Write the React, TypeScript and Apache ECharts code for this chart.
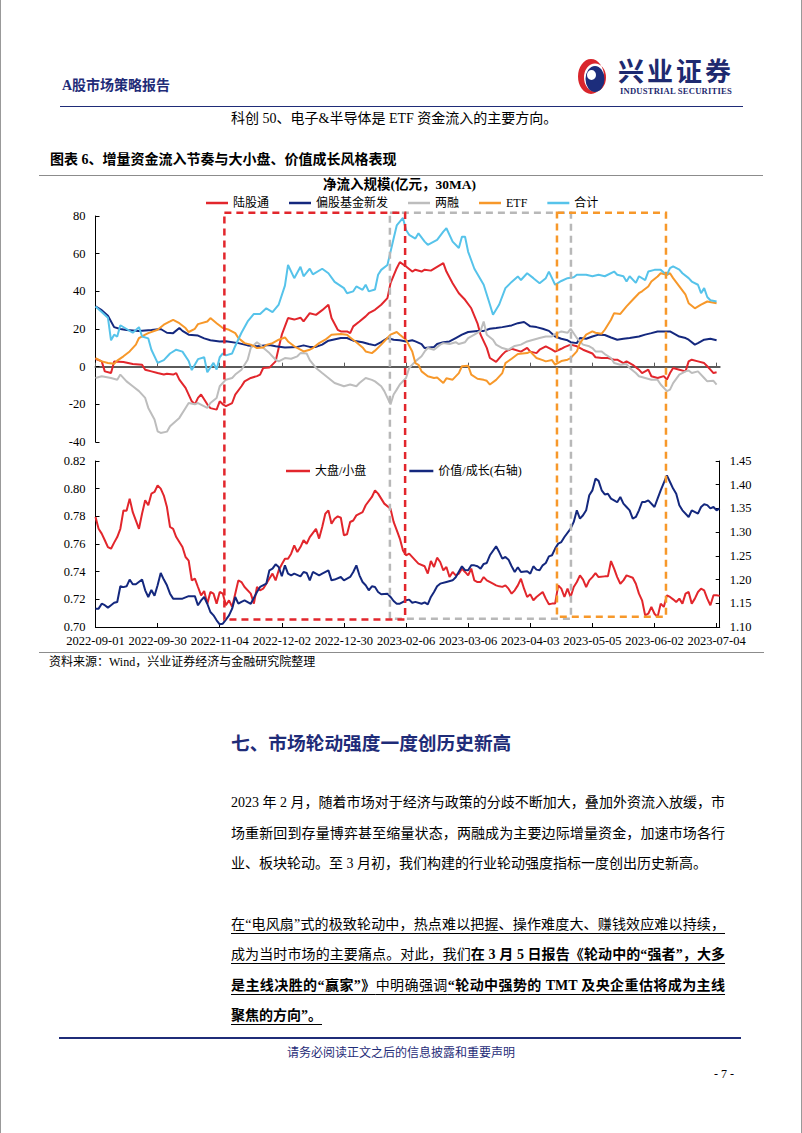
import React, { useEffect, useRef } from "react";
import * as echarts from "echarts";

const FONT = '"Liberation Serif", "Noto Sans CJK SC", serif';
const NAVY = "#1F2C78";

// Chinese A-share market holidays in the period (weekdays)
const HOLIDAYS = [
  "2022-09-12", "2022-10-03", "2022-10-04", "2022-10-05", "2022-10-06", "2022-10-07",
  "2023-01-02", "2023-01-23", "2023-01-24", "2023-01-25", "2023-01-26", "2023-01-27",
  "2023-04-05", "2023-05-01", "2023-05-02", "2023-05-03", "2023-06-22", "2023-06-23",
];

function tradingDays(start: string, count: number): string[] {
  const out: string[] = [];
  const d = new Date(start + "T00:00:00Z");
  while (out.length < count) {
    const s = d.toISOString().slice(0, 10);
    const wd = d.getUTCDay();
    if (wd !== 0 && wd !== 6 && !HOLIDAYS.includes(s)) out.push(s);
    d.setUTCDate(d.getUTCDate() + 1);
  }
  return out;
}

const dates = tradingDays("2022-09-01", 202);

// 净流入规模(亿元，30MA) — [trading-day index, value]
const northbound: [number, number][] = [
  [0,4.2],[2,2.8],[3,-2.5],[5,-3.4],[6,2.8],[9,2.5],[12,1.4],[15,1],[16,-1.6],[18,-2.5],[20,-3.4],[22,-4.2],[23,-3.8],[25,-4.2],[26,-3.4],[27,-6.9],[29,-11.3],[31,-18.4],[32,-20],[33,-16.6],[34,-14.8],[36,-20],[37,-22],[39,-22.8],[40,-18.4],[41,-20],[42,-21],[44,-19.3],[45,-14.8],[47,-10.4],[48,-7.8],[50,-6],[52,-5],[53,-4.2],[54,-0.7],[56,-0.5],[58,2.8],[59,10],[60,17],[62,25.8],[64,25],[66,26],[67,24],[69,28.4],[71,27.5],[73,30],[75,32.9],[76,25.8],[78,19.6],[79,18.7],[81,18.7],[82,17.8],[83,21.4],[85,24],[87,26.7],[88,28.4],[90,30.2],[92,32.9],[94,36.4],[95,44.3],[97,52.3],[98,55.5],[100,53.2],[102,50.5],[103,51.5],[105,50.5],[106,51.5],[108,51],[110,53],[112,55],[113,50.5],[115,44.3],[117,39],[119,35.5],[121,31],[123,23],[124,17],[126,10],[127,4.6],[129,2.5],[131,6.4],[132,8],[134,9.5],[137,8],[139,10],[140,8],[142,7.2],[143,9],[145,10.8],[147,9],[148,8],[150,9.5],[151,10.4],[153,11.7],[155,10.8],[157,9],[160,7],[161,5],[163,4.6],[165,4.6],[167,3.7],[168,3.7],[170,1.9],[171,2.8],[173,1],[175,-1.6],[176,-3.4],[178,-1.6],[179,-5.1],[181,-6],[183,-5],[184,-6.9],[185,-3.4],[186,-0.7],[188,-1.6],[190,-2.5],[191,2.8],[192,3.7],[194,2.8],[196,1.9],[197,0.2],[198,-1.6],[199,-3.4],[200,-3],
];
const newFunds: [number, number][] = [
  [0,32],[2,30],[4,27],[6,21],[8,20],[10,19.5],[14,19],[18,19.5],[21,20],[23,18],[25,17.8],[27,20.5],[28,19],[30,17],[33,16.5],[35,15],[37,14],[40,13.4],[42,13.5],[46,12.5],[49,11.3],[52,10.8],[56,11.5],[58,10.8],[61,10.2],[65,10.5],[67,11.3],[69,10.5],[71,10.5],[73,11.7],[75,13.8],[79,15.2],[81,15.2],[83,13.8],[86,13],[88,12],[90,11.3],[92,13],[94,15.2],[96,14.3],[98,14],[100,13.4],[102,14],[103,13.4],[105,12],[106,9.9],[109,10.5],[110,12],[112,13],[114,13.4],[116,15.2],[118,17],[120,18.4],[123,19],[125,19],[127,20.1],[129,20.5],[131,21],[134,21.9],[136,23.1],[138,23.7],[140,21.4],[142,21],[144,20.1],[146,19],[148,16],[150,14.8],[152,14],[153,13],[155,12.5],[156,15.2],[158,14.8],[160,16],[162,17],[164,16.8],[166,15.5],[168,14.3],[170,14.8],[172,15.2],[175,16],[177,17],[179,17.8],[181,18.7],[183,18.7],[185,18.7],[186,17.8],[188,16],[190,15.2],[191,14.3],[193,11.7],[194,12.5],[196,14.3],[198,14.8],[200,14],
];
const margin: [number, number][] = [
  [0,-6],[2,-5.1],[5,-6],[7,-6.9],[8,-4.2],[10,-7.8],[12,-10.4],[14,-13],[16,-16.6],[17,-21.9],[19,-28],[20,-34.3],[21,-35.2],[23,-34.5],[24,-31.6],[27,-27.2],[29,-21.9],[30,-19.3],[32,-20],[33,-19.3],[36,-21.9],[37,-19.3],[39,-16.6],[40,-10.4],[42,-6.9],[44,-6],[45,-4.2],[47,-1.6],[49,3.7],[50,9.9],[52,13],[53,11.7],[54,10],[56,7.2],[58,3.7],[59,2.8],[61,4.6],[63,4.2],[65,5.5],[66,7.2],[68,7],[69,3.5],[71,-0.7],[73,-3.4],[75,-6],[77,-8.7],[80,-10.4],[82,-9.5],[84,-10.4],[85,-8.7],[87,-6],[89,-7],[90,-7.8],[92,-10.4],[93,-13],[95,-20],[96,-14.8],[97,-12.2],[98,-9.5],[100,-6],[101,-0.7],[103,2.8],[105,5.5],[106,8.1],[107,9.9],[109,9],[111,11.7],[112,12.5],[114,12],[116,13],[117,12],[119,13],[120,15.2],[122,17],[124,19],[125,24],[126,17],[128,14.3],[129,11.7],[131,9.9],[133,9],[135,11],[137,11.7],[139,13.4],[141,14.3],[143,15.2],[145,16],[147,16],[148,17.3],[150,18.7],[152,18],[153,20.1],[155,15.2],[156,13.4],[157,11.7],[159,10.8],[160,9.9],[161,8.1],[163,8.1],[164,6.7],[166,4.6],[167,1.9],[169,1],[171,1.4],[172,-0.7],[174,-3.4],[175,-5.1],[177,-6],[179,-6.9],[181,-7],[182,-9.5],[184,-13],[185,-12.2],[186,-8.7],[188,-4.2],[190,-2.5],[191,-2],[192,-3.4],[194,-2.5],[196,-6],[197,-7.8],[199,-7.5],[200,-9.5],
];
const etf: [number, number][] = [
  [0,4.6],[2,2.8],[4,1.9],[6,1.5],[7,3.2],[9,5.5],[11,8.1],[13,11.7],[14,15.2],[16,17],[17,17.8],[20,19.6],[22,22.3],[24,24],[25,24.9],[27,23.1],[29,20.5],[30,18.4],[32,20.1],[33,22.6],[36,24],[37,25.8],[39,23.1],[41,20.5],[43,19.6],[45,17.8],[46,15.2],[48,12.5],[50,11.7],[52,9.9],[54,10.2],[55,11.5],[57,12.5],[59,14.3],[61,15.5],[62,13.4],[64,10.8],[66,9],[67,8.1],[69,9],[70,9.9],[72,12.5],[74,14.3],[76,17],[79,17.3],[81,17],[82,15.5],[84,13],[86,10.2],[87,8.1],[89,7.2],[90,8.5],[92,11.7],[94,15.2],[95,17],[97,18.4],[98,17],[100,14.3],[102,8.1],[103,1.9],[104,1],[105,-2.5],[107,-5.1],[109,-6],[110,-5.8],[112,-8.7],[113,-6.2],[115,-6.9],[117,-3.4],[118,0.2],[120,0.5],[121,-4.2],[123,-6.4],[125,-7],[126,-7.5],[127,-9.5],[129,-7],[131,-3.4],[132,1.9],[134,4.2],[136,6.7],[139,7.2],[140,8],[142,4.6],[144,3.5],[145,2.8],[147,3.5],[148,1.1],[150,3],[152,3.7],[153,4.5],[155,8.1],[156,12.5],[158,17],[160,18.7],[161,18],[163,17.5],[164,19.6],[166,24.9],[167,28.4],[169,28],[171,32],[173,35.5],[175,39],[176,40],[178,42.6],[179,45.2],[181,47.9],[182,49.6],[184,48.8],[185,49.6],[186,47],[188,42.6],[190,38.2],[191,33.7],[193,31],[195,32.9],[197,34.6],[200,33.7],
];
const total: [number, number][] = [
  [0,32],[2,29],[4,26],[5,14],[6,17],[7,16],[8,22],[10,20],[12,18],[14,21],[15,16],[17,15],[18,9],[20,2],[22,3.5],[24,7],[26,9],[28,8],[30,3],[31,-1.8],[33,4],[35,5],[36,-3],[38,2],[39,-1.5],[40,5],[41,7],[42,6],[44,7],[45,11],[47,18],[49,24],[51,28],[53,28],[55,31],[57,29],[59,33],[61,43],[62,54],[64,47],[66,53],[67,48],[69,52],[70,49],[73,52],[75,49.6],[77,45],[80,41.7],[81,39],[83,40],[84,42.6],[86,40.8],[87,43.5],[88,40],[90,41],[91,48.8],[92,51.4],[94,54],[96,68],[97,75],[99,79],[100,72.6],[101,70],[103,68],[104,70.8],[106,66.4],[107,64.7],[110,67.3],[112,71.7],[113,73.5],[115,66.4],[117,63],[118,69],[119,69],[120,61],[122,52],[125,43.5],[127,33],[128,27.6],[130,33],[132,41.7],[134,45],[136,47.9],[137,46],[139,49.6],[141,47],[143,44.3],[145,47],[146,50.5],[147,47],[148,43.5],[150,45.5],[152,47],[154,47.5],[155,48.8],[158,48.8],[160,48],[162,48.8],[164,48],[167,50.5],[168,48.8],[170,48],[171,45.2],[172,48],[174,44.5],[175,48],[177,46],[178,50.5],[180,51.4],[182,51.4],[183,50],[184,48.8],[185,52.3],[186,53.2],[188,51.5],[189,49.6],[191,47],[192,45.2],[194,43.5],[195,39],[196,41.7],[197,37],[198,35.3],[200,34.6],
];

// 大盘/小盘 (left axis) and 价值/成长 (right axis)
const bigSmall: [number, number][] = [
  [0,0.7795],[1,0.771],[2,0.7675],[3,0.7627],[4,0.7578],[5,0.7566],[6,0.761],[7,0.765],[8,0.771],[9,0.7843],[10,0.784],[11,0.7928],[12,0.783],[14,0.771],[15,0.782],[16,0.7916],[17,0.788],[18,0.7964],[19,0.7976],[20,0.8024],[21,0.80],[22,0.795],[23,0.7867],[24,0.7723],[25,0.771],[26,0.765],[28,0.7578],[29,0.7506],[30,0.748],[31,0.7337],[32,0.735],[33,0.7289],[34,0.7229],[35,0.726],[36,0.7169],[37,0.7253],[38,0.7241],[39,0.7169],[40,0.7253],[41,0.7241],[42,0.7157],[43,0.7193],[44,0.7145],[45,0.7241],[46,0.7337],[47,0.7325],[48,0.7289],[50,0.7241],[51,0.7169],[52,0.7289],[53,0.7265],[54,0.7277],[55,0.7313],[56,0.735],[57,0.7386],[58,0.7337],[59,0.741],[60,0.7453],[61,0.7494],[62,0.7494],[63,0.753],[64,0.759],[65,0.7542],[66,0.7578],[67,0.7627],[68,0.7602],[69,0.765],[71,0.771],[72,0.7639],[73,0.7723],[74,0.7819],[75,0.7843],[76,0.7747],[77,0.7783],[78,0.78],[79,0.779],[80,0.7663],[81,0.767],[82,0.7759],[83,0.777],[84,0.7807],[86,0.783],[87,0.788],[89,0.794],[90,0.7988],[91,0.7964],[92,0.7928],[93,0.7892],[95,0.7855],[96,0.776],[97,0.770],[98,0.7639],[99,0.7554],[100,0.7518],[101,0.753],[103,0.7482],[104,0.7458],[106,0.7439],[107,0.7386],[108,0.7477],[109,0.7434],[110,0.7501],[111,0.747],[112,0.741],[113,0.7434],[114,0.7361],[115,0.7398],[116,0.7373],[117,0.7386],[118,0.7422],[119,0.7398],[120,0.7373],[121,0.7422],[122,0.7337],[123,0.7325],[124,0.7325],[125,0.7361],[126,0.7337],[128,0.7313],[129,0.7301],[130,0.7294],[131,0.729],[132,0.7301],[133,0.7277],[134,0.7241],[135,0.7265],[136,0.7301],[137,0.7349],[138,0.7277],[139,0.7217],[140,0.7236],[141,0.7193],[142,0.7217],[144,0.7253],[145,0.7205],[146,0.7164],[147,0.7169],[148,0.7169],[149,0.7301],[150,0.7277],[151,0.7217],[152,0.7277],[153,0.7217],[154,0.7289],[155,0.7325],[156,0.7373],[157,0.7342],[158,0.7289],[159,0.7337],[160,0.7361],[161,0.739],[162,0.7361],[164,0.7366],[165,0.7366],[166,0.7477],[167,0.7422],[168,0.7361],[169,0.7313],[170,0.7337],[171,0.7373],[173,0.7356],[174,0.7313],[175,0.7241],[176,0.7193],[177,0.7084],[178,0.7096],[179,0.7145],[180,0.7096],[181,0.7072],[182,0.7169],[183,0.7145],[184,0.7229],[185,0.7217],[186,0.72],[187,0.7181],[188,0.7205],[189,0.7169],[190,0.7241],[191,0.7253],[192,0.7169],[193,0.7205],[194,0.7253],[195,0.7277],[196,0.7265],[197,0.7205],[198,0.7157],[199,0.7229],[200,0.7229],[201,0.7225],
];
const valueGrowth: [number, number][] = [
  [0,1.1387],[1,1.1387],[2,1.1492],[3,1.146],[4,1.1408],[5,1.146],[6,1.151],[7,1.1527],[8,1.1858],[9,1.184],[10,1.1858],[11,1.2],[12,1.19],[13,1.19],[15,1.2],[16,1.1773],[17,1.1633],[18,1.178],[19,1.166],[20,1.188],[21,1.2139],[22,1.2],[23,1.1879],[24,1.1703],[25,1.1598],[28,1.1598],[30,1.165],[32,1.165],[33,1.1457],[34,1.156],[35,1.1633],[36,1.149],[37,1.1316],[38,1.1246],[39,1.1141],[40,1.1056],[41,1.107],[42,1.1155],[43,1.1246],[44,1.1387],[45,1.1633],[46,1.1492],[47,1.153],[48,1.1562],[50,1.149],[52,1.1738],[53,1.1844],[55,1.1914],[56,1.2195],[57,1.223],[58,1.2322],[59,1.2265],[60,1.2069],[61,1.23],[62,1.2125],[63,1.209],[64,1.2125],[66,1.2069],[67,1.216],[68,1.214],[69,1.1984],[70,1.216],[72,1.209],[73,1.2125],[75,1.2195],[76,1.1984],[77,1.2],[79,1.2055],[80,1.1984],[82,1.2055],[83,1.216],[84,1.23],[85,1.209],[86,1.1949],[87,1.188],[88,1.1773],[89,1.1858],[90,1.1844],[91,1.1738],[92,1.169],[94,1.1703],[95,1.1633],[96,1.1548],[97,1.1492],[98,1.1492],[100,1.1562],[101,1.1577],[102,1.151],[103,1.153],[105,1.149],[106,1.152],[107,1.1478],[108,1.1633],[109,1.1738],[110,1.186],[111,1.1914],[113,1.195],[115,1.1984],[116,1.205],[118,1.228],[119,1.22],[120,1.2195],[121,1.23],[122,1.23],[123,1.228],[124,1.223],[125,1.233],[126,1.235],[127,1.2512],[129,1.2701],[130,1.258],[131,1.2441],[132,1.2476],[133,1.242],[134,1.228],[135,1.216],[136,1.226],[137,1.216],[139,1.2175],[140,1.2125],[141,1.228],[142,1.221],[143,1.2195],[144,1.23],[145,1.235],[146,1.249],[147,1.2512],[148,1.2652],[149,1.2758],[150,1.279],[151,1.2898],[153,1.3074],[154,1.3215],[155,1.346],[156,1.3285],[157,1.3355],[158,1.346],[159,1.3777],[160,1.388],[161,1.4128],[162,1.408],[163,1.3882],[164,1.3795],[165,1.381],[166,1.3707],[167,1.367],[168,1.363],[169,1.374],[170,1.36],[171,1.353],[172,1.346],[173,1.3285],[174,1.332],[175,1.346],[176,1.3636],[177,1.3636],[178,1.367],[180,1.353],[181,1.3707],[182,1.3882],[184,1.4198],[185,1.4058],[186,1.3918],[187,1.381],[188,1.3566],[189,1.346],[191,1.332],[192,1.346],[194,1.339],[195,1.353],[196,1.3587],[197,1.357],[198,1.35],[199,1.353],[200,1.346],[201,1.35],
];

const topNames = ["陆股通", "偏股基金新发", "两融", "ETF", "合计"];
const bottomNames = ["大盘/小盘", "价值/成长(右轴)"];

// highlighted periods (trading-day index ranges)
const periodGray = [94.8, 153.1];
const periodRed = [41.5, 99.7];
const periodOrange = [148.6, 183.7];

const C = {
  red: "#E2262C",
  navy: "#14287E",
  gray: "#BDBDBD",
  orange: "#F7982A",
  cyan: "#56C3EA",
};

function Chart() {
  const ref = useRef<HTMLDivElement>(null);
  useEffect(() => {
    const el = ref.current!;
    const chart = echarts.init(el, null, { renderer: "svg" });
    const pairs = (arr: [number, number][]) => arr.map(([i, v]) => [dates[i], v]);
    const line = (name: string, data: [number, number][], color: string, xi: number, yi: number) => ({
      type: "line",
      name,
      data: pairs(data),
      xAxisIndex: xi,
      yAxisIndex: yi,
      showSymbol: false,
      symbol: "none",
      lineStyle: { color, width: 2 },
      itemStyle: { color },
      emphasis: { disabled: true },
    });
    const labelStyle = { fontFamily: FONT, fontSize: 12.5, color: "#000" };
    chart.setOption({
      animation: false,
      title: {
        text: "净流入规模(亿元，30MA)",
        left: 322,
        top: 8,
        padding: 0,
        textStyle: { fontFamily: FONT, fontSize: 13.5, fontWeight: "bold", color: "#000" },
      },
      legend: [
        {
          data: topNames,
          left: 205,
          top: 27,
          padding: 0,
          itemGap: 20,
          itemWidth: 22,
          itemHeight: 2.5,
          icon: "rect",
          textStyle: { fontFamily: FONT, fontSize: 12, color: "#000" },
        },
        {
          data: bottomNames,
          left: 285,
          top: 295,
          padding: 0,
          itemGap: 43,
          itemWidth: 24,
          itemHeight: 2.5,
          icon: "rect",
          textStyle: { fontFamily: FONT, fontSize: 12, color: "#000" },
        },
      ],
      grid: [
        { left: 94.5, right: 83.3, top: 46, height: 226, outerBoundsMode: "none" },
        { left: 94.5, right: 83.3, top: 291, height: 166, outerBoundsMode: "none" },
      ],
      xAxis: [
        {
          type: "category",
          gridIndex: 0,
          data: dates,
          boundaryGap: false,
          axisLine: { onZero: true, lineStyle: { color: "#5A5A5A", width: 2 } },
          axisTick: { inside: true, interval: 19, length: 4, lineStyle: { color: "#5A5A5A" } },
          axisLabel: { show: false },
          splitLine: { show: false },
        },
        {
          type: "category",
          gridIndex: 1,
          data: dates,
          boundaryGap: false,
          axisLine: { lineStyle: { color: "#000", width: 1 } },
          axisTick: { inside: true, interval: 19, length: 4, lineStyle: { color: "#000" } },
          axisLabel: { ...labelStyle, interval: 19, margin: 8, hideOverlap: false },
          splitLine: { show: false },
        },
      ],
      yAxis: [
        {
          type: "value",
          gridIndex: 0,
          min: -40,
          max: 80,
          interval: 20,
          axisLine: { show: true, lineStyle: { color: "#000" } },
          axisTick: { show: true, inside: true, length: 4, lineStyle: { color: "#000" } },
          axisLabel: { ...labelStyle, margin: 10 },
          splitLine: { show: false },
        },
        {
          type: "value",
          gridIndex: 1,
          min: 0.7,
          max: 0.82,
          interval: 0.02,
          axisLine: { show: true, lineStyle: { color: "#000" } },
          axisTick: { show: true, inside: true, length: 4, lineStyle: { color: "#000" } },
          axisLabel: { ...labelStyle, margin: 10, formatter: (v: number) => v.toFixed(2) },
          splitLine: { show: false },
        },
        {
          type: "value",
          gridIndex: 1,
          position: "right",
          min: 1.1,
          max: 1.45,
          interval: 0.05,
          axisLine: { show: true, lineStyle: { color: "#000" } },
          axisTick: { show: true, inside: true, length: 4, lineStyle: { color: "#000" } },
          axisLabel: { ...labelStyle, margin: 10, formatter: (v: number) => v.toFixed(2) },
          splitLine: { show: false },
        },
      ],
      series: [
        line(topNames[0], northbound, C.red, 0, 0),
        line(topNames[1], newFunds, C.navy, 0, 0),
        line(topNames[2], margin, C.gray, 0, 0),
        line(topNames[3], etf, C.orange, 0, 0),
        line(topNames[4], total, C.cyan, 0, 0),
        line(bottomNames[0], bigSmall, C.red, 1, 1),
        line(bottomNames[1], valueGrowth, C.navy, 1, 2),
      ],
    });

    const px0 = chart.convertToPixel({ xAxisIndex: 0 }, dates[0]) as number;
    const px1 = chart.convertToPixel({ xAxisIndex: 0 }, dates[1]) as number;
    const xAt = (i: number) => px0 + (px1 - px0) * i;
    const yTop = chart.convertToPixel({ yAxisIndex: 0 }, 81.7) as number;
    const box = (range: number[], bottomVal: number, color: string) => {
      const yb = chart.convertToPixel({ yAxisIndex: 1 }, bottomVal) as number;
      const x1 = xAt(range[0]);
      const x2 = xAt(range[1]);
      return {
        type: "rect",
        silent: true,
        z: 100,
        shape: { x: x1, y: yTop, width: x2 - x1, height: yb - yTop },
        style: { fill: "none", stroke: color, lineWidth: 2.5, lineDash: [7, 5] },
      };
    };
    chart.setOption({
      graphic: [
        box(periodGray, 0.706, "#B8B8B8"),
        box(periodRed, 0.7055, C.red),
        box(periodOrange, 0.7075, "#F7982A"),
      ],
    });
    return () => chart.dispose();
  }, []);
  return <div ref={ref} style={{ position: "absolute", left: 0, top: 170, width: 802, height: 482 }} />;
}

type TP = { x: number; y: number; size: number; children: React.ReactNode; style?: React.CSSProperties };
function T({ x, y, size, children, style }: TP) {
  const h = Math.round(size * 1.6);
  return (
    <div
      style={{
        position: "absolute",
        left: x,
        top: y - h / 2,
        height: h,
        lineHeight: `${h}px`,
        fontSize: size,
        whiteSpace: "nowrap",
        fontFamily: FONT,
        color: "#000",
        ...style,
      }}
    >
      {children}
    </div>
  );
}

function HLine({ x1, x2, y, color, w }: { x1: number; x2: number; y: number; color: string; w: number }) {
  return <div style={{ position: "absolute", left: x1, top: y - w / 2, width: x2 - x1, height: w, background: color }} />;
}

const para1 = [
  "2023 年 2 月，随着市场对于经济与政策的分歧不断加大，叠加外资流入放缓，市",
  "场重新回到存量博弈甚至缩量状态，两融成为主要边际增量资金，加速市场各行",
  "业、板块轮动。至 3 月初，我们构建的行业轮动强度指标一度创出历史新高。",
];
const para2: [string, boolean][][] = [
  [["在“电风扇”式的极致轮动中，热点难以把握、操作难度大、赚钱效应难以持续，", false]],
  [["成为当时市场的主要痛点。对此，我们", false], ["在 3 月 5 日报告《轮动中的“强者”，大多", true]],
  [["是主线决胜的“赢家”》", true], ["中明确强调", false], ["“轮动中强势的 TMT 及央企重估将成为主线", true]],
  [["聚焦的方向”。", true]],
];

function ParaLine({ y, full, children, underline }: { y: number; full: boolean; children: React.ReactNode; underline?: boolean }) {
  const h = 24;
  return (
    <div
      style={{
        position: "absolute",
        left: 230,
        top: y - h / 2,
        width: full ? 494 : undefined,
        height: h,
        lineHeight: `${h}px`,
        fontSize: 14,
        fontFamily: FONT,
        color: "#000",
        whiteSpace: "nowrap",
        textAlign: full ? "justify" : "left",
        textAlignLast: full ? "justify" : "left",
        textDecoration: underline ? "underline" : "none",
        textUnderlineOffset: "4px",
      }}
    >
      {children}
    </div>
  );
}

function Logo() {
  return (
    <svg style={{ position: "absolute", left: 576, top: 58 }} width={29} height={38} viewBox="0 0 29 38">
      <path
        d="M 27 18.5 A 13 17.5 0 1 1 1 18.5 A 13 17.5 0 1 1 27 18.5 Z M 29 19.5 A 11 14 0 1 0 7 19.5 A 11 14 0 1 0 29 19.5 Z"
        fill="#D9262C"
        fillRule="evenodd"
      />
      <path
        d="M 27.5 21 A 9.5 13 0 1 1 8.5 21 A 9.5 13 0 1 1 27.5 21 Z M 19 17 A 4.5 5 0 1 0 10 17 A 4.5 5 0 1 0 19 17 Z"
        fill="#1C2D7C"
        fillRule="evenodd"
      />
    </svg>
  );
}

export default function App() {
  return (
    <div
      style={{
        position: "absolute",
        left: 0,
        top: 0,
        width: 802,
        height: 1133,
        background: "#fff",
        overflow: "hidden",
        borderLeft: "1px solid #999",
        borderRight: "1px solid #999",
        boxSizing: "border-box",
      }}
    >
      <T x={61} y={86} size={14} style={{ color: NAVY, fontWeight: "bold" }}>A股市场策略报告</T>
      <Logo />
      <T x={617} y={72.5} size={26} style={{ color: "#1E2A70", fontWeight: "bold", letterSpacing: 3 }}>兴业证券</T>
      <T x={619} y={90.5} size={8.6} style={{ color: "#1E2A70", fontWeight: "bold", letterSpacing: 0.2 }}>INDUSTRIAL SECURITIES</T>
      <HLine x1={59} x2={742} y={106.5} color={NAVY} w={1.5} />
      <T x={230} y={118.5} size={14}>科创 50、电子&amp;半导体是 ETF 资金流入的主要方向。</T>
      <T x={49} y={160} size={14} style={{ fontWeight: "bold" }}>图表 6、增量资金流入节奏与大小盘、价值成长风格表现</T>
      <HLine x1={38} x2={762} y={175} color="#8C8C8C" w={1} />
      <Chart />
      <HLine x1={38} x2={763} y={652} color="#8C8C8C" w={1} />
      <T x={48} y={662} size={12}>资料来源：Wind，兴业证券经济与金融研究院整理</T>
      <T x={230} y={744} size={18.7} style={{ color: NAVY, fontWeight: "bold" }}>七、市场轮动强度一度创历史新高</T>
      {para1.map((s, k) => (
        <ParaLine key={k} y={803 + k * 30.5} full={k < para1.length - 1}>{s}</ParaLine>
      ))}
      {para2.map((segs, k) => (
        <ParaLine key={k} y={925 + k * 30.3} full={k < para2.length - 1} underline>
          {segs.map(([s, b], j) => (
            <span key={j} style={{ fontWeight: b ? "bold" : "normal" }}>{s}</span>
          ))}
        </ParaLine>
      ))}
      <HLine x1={58} x2={740} y={1038} color={NAVY} w={1.5} />
      <T x={400} y={1053} size={12} style={{ color: NAVY, transform: "translateX(-50%)" }}>请务必阅读正文之后的信息披露和重要声明</T>
      <T x={713} y={1074} size={12}>- 7 -</T>
    </div>
  );
}
